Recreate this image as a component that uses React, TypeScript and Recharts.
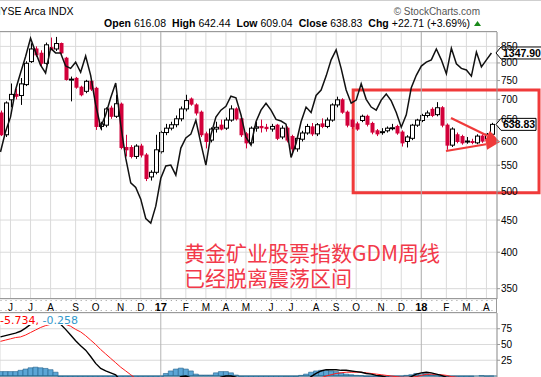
import React from 'react';
import {
  ComposedChart, Bar, Line, XAxis, YAxis, CartesianGrid,
  ReferenceLine, ReferenceArea, ReferenceDot,
} from 'recharts';

// Weekly bars, counted in weeks from the week of 6 Jun 2016 (first visible bar = week -2)
const FIRST_WEEK = -2;

const opens = [
  666, 615, 699, 713, 710, 739, 804, 842, 829, 799,
  846, 842, 859, 814, 753, 756, 732, 721, 748, 729,
  634, 637, 678, 658, 688, 587, 587, 568, 590, 571,
  527, 536, 578, 620, 630, 638, 652, 676, 701, 686,
  668, 617, 603, 628, 637, 630, 649, 676, 652, 617,
  597, 630, 634, 632, 628, 637, 610, 630, 611, 584,
  605, 619, 633, 617, 640, 634, 649, 686, 699, 668,
  649, 640, 648, 658, 641, 624, 621, 624, 630, 634,
  621, 600, 607, 637, 648, 660, 675, 662, 679, 637,
  592, 615, 611, 600, 600, 597, 612, 606, 616.08,
];
const highs = [
  672, 695, 742, 728, 757, 805, 860, 850, 838, 862,
  878, 880, 862, 818, 761, 760, 736, 752, 752, 733,
  645, 680, 684, 712, 692, 615, 592, 594, 595, 575,
  540, 615, 624, 640, 645, 660, 682, 712, 705, 690,
  672, 622, 632, 645, 650, 655, 685, 680, 656, 621,
  634, 645, 650, 640, 640, 640, 636, 634, 615, 612,
  624, 640, 642, 642, 653, 655, 690, 707, 703, 672,
  652, 645, 662, 662, 645, 628, 630, 634, 640, 638,
  625, 614, 640, 652, 664, 672, 680, 693, 683, 641,
  632, 620, 615, 610, 606, 616, 616, 619, 642.44,
];
const lows = [
  612, 610, 680, 700, 686, 735, 800, 818, 790, 795,
  838, 836, 826, 750, 695, 728, 708, 716, 722, 626,
  625, 632, 652, 654, 583, 568, 564, 563, 566, 519,
  520, 532, 574, 614, 625, 632, 646, 670, 684, 660,
  610, 585, 598, 620, 625, 626, 645, 648, 610, 585,
  592, 622, 620, 622, 622, 603, 605, 598, 576, 578,
  600, 615, 612, 612, 630, 630, 645, 680, 664, 632,
  628, 624, 644, 634, 616, 612, 615, 620, 625, 615,
  589, 587, 603, 633, 644, 655, 656, 658, 632, 582,
  588, 596, 593, 595, 594, 594, 597, 600, 609.04,
];
const closes = [
  615, 691, 713, 708, 741, 799, 842, 824, 799, 855,
  841, 859, 830, 753, 754, 732, 712, 748, 727, 634,
  640, 676, 658, 689, 587, 582, 568, 590, 571, 524,
  536, 582, 620, 630, 638, 652, 676, 697, 688, 666,
  615, 600, 628, 632, 628, 649, 676, 652, 615, 597,
  630, 633, 631, 629, 634, 607, 630, 603, 584, 607,
  619, 634, 617, 638, 634, 649, 686, 699, 668, 637,
  634, 628, 658, 639, 621, 617, 622, 630, 631, 619,
  597, 610, 637, 649, 660, 666, 660, 679, 637, 592,
  628, 600, 597, 601, 598, 612, 601, 616.12, 638.83,
];
// Gold price overlay ($GOLD)
const goldPrice = [
  1220, 1246, 1265, 1300, 1322, 1343, 1367, 1349, 1332, 1322,
  1354, 1348, 1348, 1331, 1328, 1336, 1323, 1344, 1319, 1281,
  1252, 1268, 1290, 1309, 1255, 1212, 1180, 1174, 1159, 1134,
  1128, 1150, 1186, 1202, 1203, 1190, 1225, 1238, 1243, 1261,
  1231, 1203, 1242, 1265, 1274, 1279, 1292, 1290, 1268, 1239,
  1229, 1259, 1274, 1283, 1274, 1262, 1260, 1256, 1213, 1231,
  1259, 1278, 1271, 1293, 1300, 1318, 1339, 1352, 1328, 1300,
  1283, 1287, 1308, 1288, 1278, 1274, 1287, 1295, 1286, 1271,
  1252, 1268, 1303, 1319, 1331, 1336, 1339, 1353, 1339, 1321,
  1354, 1334, 1328, 1326, 1318, 1349, 1330, 1339, 1347.9,
];
// MACD(12,26,9)
const macdLine = [
  62, 64, 66, 68, 71, 76, 82, 88, 92, 94,
  93, 89, 82, 74, 65, 56, 48, 41, 31, 20,
  12, 8, 5, 2, -8, -18, -28, -36, -42, -50,
  -54, -46, -36, -26, -16, -7, -1, 0, -3, -7,
  -9, -10, -9, -5, -2, 0, 0, -2, -6, -12,
  -16, -19, -21, -22, -22, -22, -21, -20, -21, -19,
  -14, -8, -1, 4, 8, 10, 10, 10, 9, 9,
  8, 7, 6, 4, 3, 1, 0, -2, -3, -4,
  -6, -4, -1, 3, 5, 6, 5, 3, 1, -2,
  -3, -4, -5, -6, -6, -5, -5, -5.5, -5.99,
];
const signalLine = [
  55, 57, 59, 61, 62, 65, 69, 73, 77, 80,
  82, 84, 84, 82, 79, 74, 70, 64, 57, 50,
  42, 35, 28, 21, 14, 8, 2, -4, -10, -17,
  -24, -28, -30, -30, -28, -24, -19, -15, -12, -11,
  -11, -11, -10, -9, -8, -6, -5, -4, -5, -7,
  -9, -11, -13, -15, -16, -17, -18, -19, -19, -19,
  -17, -14, -10, -6, -3, 0, 2, 4, 5, 6,
  6, 6, 6, 5, 4, 3, 2, 1, 0, -1,
  -2, -2, -2, -1, 1, 2.5, 3, 2.5, 2, 1,
  -1, -2, -3, -4, -5, -5, -5.5, -5.6, -5.734,
];
const macdHist = [
  7, 7, 7, 7, 9, 11, 13, 14, 13, 12,
  10, 6, -2, -8, -14, -18, -22, -23, -26, -30,
  -30, -27, -23, -19, -22, -26, -30, -32, -32, -33,
  -30, -18, -6, 4, 8, 11, 12.5, 11, 8, 3,
  1.5, 1.5, 1.5, 5, 7, 7, 5, 1.5, -1, -5,
  -7, -8, -8, -7, -6, -5, -3, -1, -2, -1,
  1, 3, 6, 8, 9, 9, 8, 7, 5, 3,
  2, 1, 0.5, -1, -1, -2, -2, -3, -3, -3,
  -4, 1, 2, 4, 4, 3.5, 2, 0.5, -1, -3,
  -2, -2, -2, -2, -1, 0, 0.5, -0.4, -0.258,
];

// Month starts (week index) and their labels
const monthWeeks = [0, 4, 8, 13, 17, 22, 26, 30, 35, 39, 43, 47, 52, 56, 61, 65, 69, 74, 78, 82, 87, 91, 95];
const monthLabels = ['J', 'J', 'A', 'S', 'O', 'N', 'D', '17', 'F', 'M', 'A', 'M', 'J', 'J', 'A', 'S', 'O', 'N', 'D', '18', 'F', 'M', 'A'];
const yearWeeks = [30, 82];
const priceTicks = [350, 400, 450, 500, 550, 600, 650, 700, 750, 800, 850];
const macdTicks = [25, 50, 75];

// Annotation (data coordinates)
const boxWeeks = [68.4, 105.5];
const boxPrices = [497.5, 724.7];
const arrowTip = { x: 97.7, y: 599 };
const arrowStarts = [{ x: 87.93, y: 654 }, { x: 86.93, y: 579.5 }];

const FONT = '"Liberation Sans", Arial, sans-serif';
const RED = '#d2003a';
const ANNO = '#f03a3a';
const X_DOMAIN: [number, number] = [-2.096, 97.11];

const rows = opens.map((o, k) => ({
  week: FIRST_WEEK + k,
  open: o,
  high: highs[k],
  low: lows[k],
  close: closes[k],
  range: [lows[k], highs[k]],
  gold: goldPrice[k],
  macd: macdLine[k],
  signal: signalLine[k],
  hist: macdHist[k],
}));
const last = rows[rows.length - 1];

const Candle = (props: any) => {
  const { x, y, width, height, payload } = props;
  if (x == null || y == null || !payload) return null;
  const top = Math.min(y, y + height);
  const h = Math.abs(height);
  const lh = Math.log(payload.high);
  const ll = Math.log(payload.low);
  const span = lh - ll || 1;
  const py = (v: number) => top + (h * (lh - Math.log(v))) / span;
  const c = Math.round(x + width / 2);
  const up = payload.close >= payload.open;
  const yO = py(payload.open);
  const yC = py(payload.close);
  const bt = Math.min(yO, yC);
  const bh = Math.max(Math.abs(yO - yC), 1);
  const color = up ? '#000' : RED;
  return (
    <g>
      <line x1={c + 0.5} x2={c + 0.5} y1={top} y2={top + h} stroke={color} strokeWidth={1} />
      {up ? (
        <rect x={c - 1.5} y={bt} width={4} height={bh} fill="#fff" stroke="#000" strokeWidth={1} />
      ) : (
        <rect x={c - 1.5} y={bt - 0.5} width={4} height={bh + 1} fill={RED} />
      )}
    </g>
  );
};

const MonthTick = (props: any) => {
  const { x, y, payload } = props;
  const idx = monthWeeks.indexOf(payload.value);
  const label = idx >= 0 ? monthLabels[idx] : '';
  const isYear = /\d/.test(label);
  return (
    <text x={x} y={y + 10} textAnchor="middle" fontSize={isYear ? 11 : 10}
      fontWeight={isYear ? 'bold' : 'normal'} fontFamily={FONT} fill="#000">
      {label}
    </text>
  );
};

const Tag = (props: any) => {
  const { cx, cy, label, boxW } = props;
  if (cx == null || cy == null) return null;
  const tip = cx - 1;
  const x0 = tip + 5;
  const d = `M${tip},${cy} L${x0},${cy - 6} L${x0 + boxW},${cy - 6} L${x0 + boxW},${cy + 6} L${x0},${cy + 6} Z`;
  return (
    <g>
      <path d={d} fill="#fff" stroke="#000" strokeWidth={1} />
      <text x={x0 + 2} y={cy + 4} fontSize={10.5} fontWeight="bold" fontFamily={FONT} fill="#000">{label}</text>
    </g>
  );
};

const Arrow = (p: any) => {
  const { x1, y1, x2, y2 } = p;
  if ([x1, y1, x2, y2].some((v) => v == null || Number.isNaN(v))) return null;
  const ang = Math.atan2(y2 - y1, x2 - x1);
  const L = 14;
  const Wd = 5.5;
  const bx = x2 - L * Math.cos(ang);
  const by = y2 - L * Math.sin(ang);
  const px = -Math.sin(ang) * Wd;
  const py = Math.cos(ang) * Wd;
  return (
    <g>
      <line x1={x1} y1={y1} x2={bx} y2={by} stroke={ANNO} strokeWidth={2.2} />
      <polygon points={`${x2},${y2} ${bx + px},${by + py} ${bx - px},${by - py}`} fill={ANNO} />
    </g>
  );
};

export default function App() {
  return (
    <div style={{ position: 'fixed', left: 0, top: 0, width: 541, height: 377, overflow: 'hidden', background: '#fff', fontFamily: FONT }}>
      {/* header */}
      <svg width={541} height={32} style={{ position: 'absolute', left: 0, top: 0 }}>
        <line x1={0} x2={541} y1={0.5} y2={0.5} stroke="#cfcfcf" />
        <text x={-7} y={15} fontSize={10.5} fontFamily={FONT} fill="#000">NYSE Arca INDX</text>
        <text x={480} y={15} fontSize={10} fontFamily={FONT} fill="#555" textAnchor="end">© StockCharts.com</text>
        <text x={470} y={27} fontSize={10.5} fontFamily={FONT} fill="#000" textAnchor="end">
          <tspan fontWeight="bold">Open</tspan>
          <tspan dx={3}>{last.open.toFixed(2)}</tspan>
          <tspan dx={6} fontWeight="bold">High</tspan>
          <tspan dx={3}>{last.high.toFixed(2)}</tspan>
          <tspan dx={6} fontWeight="bold">Low</tspan>
          <tspan dx={3}>{last.low.toFixed(2)}</tspan>
          <tspan dx={6} fontWeight="bold">Close</tspan>
          <tspan dx={3}>{last.close.toFixed(2)}</tspan>
          <tspan dx={6} fontWeight="bold">Chg</tspan>
          <tspan dx={3}>+22.71 (+3.69%)</tspan>
        </text>
        <polygon points="474,26 477.5,21 481,26" fill="#1a8a1a" />
      </svg>

      {/* price panel */}
      <div style={{ position: 'absolute', left: 0, top: 32 }}>
        <ComposedChart width={541} height={280} data={rows} margin={{ top: 0, right: 0, bottom: 0, left: 0 }}>
          <CartesianGrid yAxisId="p" stroke="#dadada" strokeWidth={1} />
          {yearWeeks.map((w) => (
            <ReferenceLine key={w} yAxisId="p" x={w} stroke="#b4b4b4" strokeWidth={1} />
          ))}
          <XAxis dataKey="week" type="number" domain={X_DOMAIN} allowDataOverflow ticks={monthWeeks}
            interval={0} height={13} tickSize={0} axisLine={false} tickLine={false} tick={<MonthTick />} />
          <YAxis yAxisId="p" orientation="right" width={44} scale="log" domain={[337, 896]} allowDataOverflow
            ticks={priceTicks} interval={0} tickSize={3} tickMargin={1}
            axisLine={{ stroke: '#999' }} tickLine={{ stroke: '#999' }}
            tick={{ fontSize: 10, fill: '#000', fontFamily: FONT }} />
          <YAxis yAxisId="g" hide domain={[1030, 1375]} allowDataOverflow />
          <Bar yAxisId="p" dataKey="range" barSize={4} shape={<Candle />} isAnimationActive={false} />
          <Line yAxisId="g" dataKey="gold" type="linear" stroke="#111" strokeWidth={1.5} dot={false}
            activeDot={false} isAnimationActive={false} />
          <ReferenceArea yAxisId="p" x1={boxWeeks[0]} x2={boxWeeks[1]} y1={boxPrices[0]} y2={boxPrices[1]}
            fill="none" fillOpacity={0} stroke={ANNO} strokeWidth={3} ifOverflow="visible" />
          {arrowStarts.map((s, k) => (
            <ReferenceLine key={k} yAxisId="p" segment={[s, arrowTip]} ifOverflow="visible" shape={Arrow} />
          ))}
          <ReferenceDot yAxisId="g" x={X_DOMAIN[1]} y={last.gold} r={0} ifOverflow="visible"
            shape={(p: any) => <Tag {...p} label={last.gold.toFixed(2)} boxW={46} />} />
          <ReferenceDot yAxisId="p" x={X_DOMAIN[1]} y={last.close} r={0} ifOverflow="visible"
            shape={(p: any) => <Tag {...p} label={last.close.toFixed(2)} boxW={35} />} />
        </ComposedChart>
      </div>

      {/* MACD panel */}
      <div style={{ position: 'absolute', left: 0, top: 313 }}>
        <ComposedChart width={541} height={64} data={rows} margin={{ top: 0, right: 0, bottom: 0, left: 0 }}>
          <CartesianGrid stroke="#dadada" strokeWidth={1} />
          {yearWeeks.map((w) => (
            <ReferenceLine key={w} x={w} stroke="#b4b4b4" strokeWidth={1} />
          ))}
          <XAxis dataKey="week" type="number" domain={X_DOMAIN} allowDataOverflow ticks={monthWeeks}
            interval={0} height={0} tick={false} axisLine={false} tickLine={false} />
          <YAxis orientation="right" width={44} domain={[-1.6, 100]} allowDataOverflow ticks={macdTicks}
            interval={0} tickSize={3} tickMargin={1} axisLine={{ stroke: '#999' }} tickLine={{ stroke: '#999' }}
            tick={{ fontSize: 10, fill: '#000', fontFamily: FONT }} />
          <Bar dataKey="hist" barSize={5} fill="#5ba6d6" stroke="#24628c" strokeWidth={0.6} isAnimationActive={false} />
          <ReferenceLine y={0} stroke="#2a6a8a" strokeWidth={1} />
          <Line dataKey="signal" type="linear" stroke="#ff1a1a" strokeWidth={1} dot={false} activeDot={false} isAnimationActive={false} />
          <Line dataKey="macd" type="linear" stroke="#000" strokeWidth={1.4} dot={false} activeDot={false} isAnimationActive={false} />
        </ComposedChart>
      </div>

      {/* panel frames and annotations */}
      <svg width={541} height={377} style={{ position: 'absolute', left: 0, top: 0, pointerEvents: 'none' }}>
        <line x1={0} x2={497} y1={31.5} y2={31.5} stroke="#9a9a9a" />
        <line x1={0} x2={497} y1={298.5} y2={298.5} stroke="#9a9a9a" />
        <line x1={0.5} x2={497} y1={300.5} y2={300.5} stroke="#9a9a9a" strokeDasharray="1 4.01" />
        <line x1={0.5} x2={497} y1={310.5} y2={310.5} stroke="#9a9a9a" strokeDasharray="1 4.01" />
        <line x1={0} x2={497} y1={312.5} y2={312.5} stroke="#9a9a9a" />
        <line x1={496.5} x2={496.5} y1={298} y2={313} stroke="#9a9a9a" />
        <rect x={0} y={314} width={80} height={11} fill="#fff" />
        <text x={0} y={324} fontSize={11} fontFamily='"DejaVu Sans", Verdana, sans-serif'>
          <tspan fill="#ff0000">{`${last.signal}, `}</tspan>
          <tspan fill="#3399cc">{`${last.hist}`}</tspan>
        </text>
        <text x={184} y={260.5} fontSize={21} fontFamily='"Noto Sans CJK SC", sans-serif' fill="#f2394a">黄金矿业股票指数GDM周线</text>
        <text x={184} y={285.5} fontSize={21} fontFamily='"Noto Sans CJK SC", sans-serif' fill="#f2394a">已经脱离震荡区间</text>
      </svg>
    </div>
  );
}
